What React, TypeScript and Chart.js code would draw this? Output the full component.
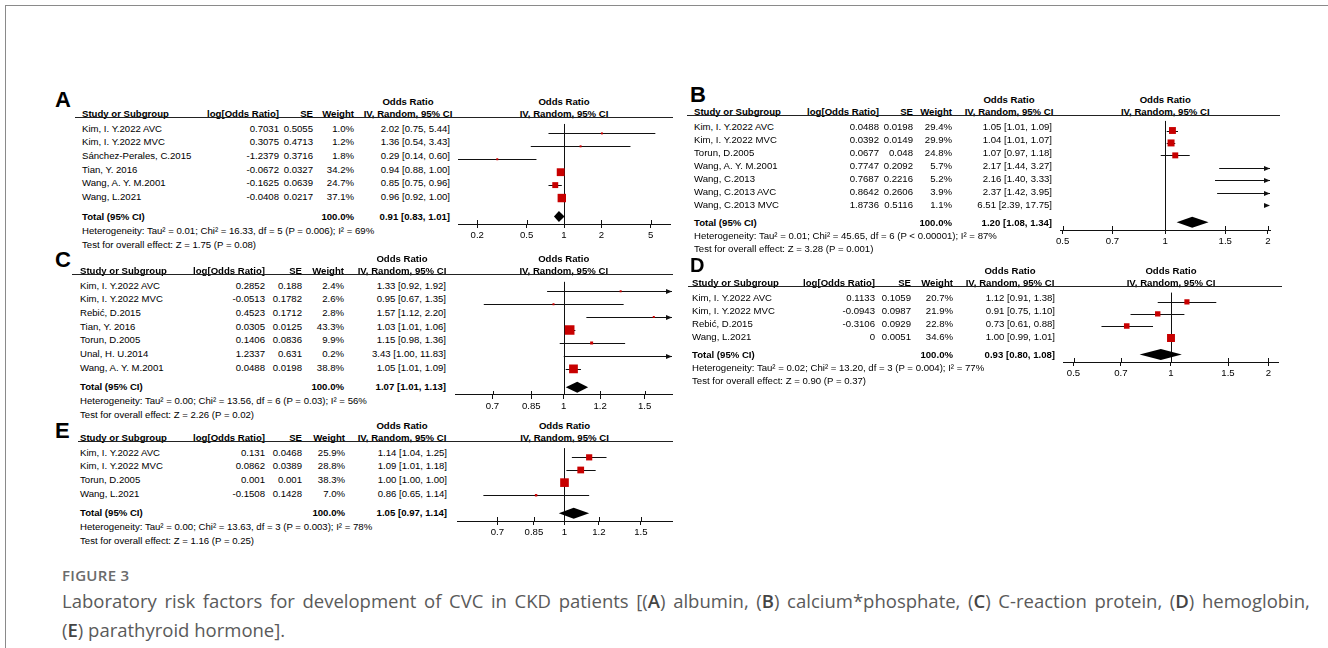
import React, { useEffect, useRef } from "react";
import { Chart, registerables } from "chart.js";

Chart.register(...registerables);

const FONT = '"Liberation Sans", Arial, Helvetica, sans-serif';
const FS = 9.6;
const AXIS_H = 22;
const PADX = 24;

// ---------- Panel A: albumin ----------
const aStudies = ["Kim, I. Y.2022 AVC", "Kim, I. Y.2022 MVC", "Sánchez-Perales, C.2015", "Tian, Y. 2016", "Wang, A. Y. M.2001", "Wang, L.2021"];
const aLogOR = [0.7031, 0.3075, -1.2379, -0.0672, -0.1625, -0.0408];
const aSE = [0.5055, 0.4713, 0.3716, 0.0327, 0.0639, 0.0217];
const aWeight = [1.0, 1.2, 1.8, 34.2, 24.7, 37.1];
const aOR = [2.02, 1.36, 0.29, 0.94, 0.85, 0.96];
const aLower = [0.75, 0.54, 0.14, 0.88, 0.75, 0.92];
const aUpper = [5.44, 3.43, 0.6, 1.0, 0.96, 1.0];
const aTotal = [0.91, 0.83, 1.01];
const aHet = "Heterogeneity: Tau² = 0.01; Chi² = 16.33, df = 5 (P = 0.006); I² = 69%";
const aTest = "Test for overall effect: Z = 1.75 (P = 0.08)";
const aTicks = [0.2, 0.5, 1, 2, 5];
const aRange = [0.14, 7.14];

// ---------- Panel B: calcium*phosphate ----------
const bStudies = ["Kim, I. Y.2022 AVC", "Kim, I. Y.2022 MVC", "Torun, D.2005", "Wang, A. Y. M.2001", "Wang, C.2013", "Wang, C.2013 AVC", "Wang, C.2013 MVC"];
const bLogOR = [0.0488, 0.0392, 0.0677, 0.7747, 0.7687, 0.8642, 1.8736];
const bSE = [0.0198, 0.0149, 0.048, 0.2092, 0.2216, 0.2606, 0.5116];
const bWeight = [29.4, 29.9, 24.8, 5.7, 5.2, 3.9, 1.1];
const bOR = [1.05, 1.04, 1.07, 2.17, 2.16, 2.37, 6.51];
const bLower = [1.01, 1.01, 0.97, 1.44, 1.4, 1.42, 2.39];
const bUpper = [1.09, 1.07, 1.18, 3.27, 3.33, 3.95, 17.75];
const bTotal = [1.2, 1.08, 1.34];
const bHet = "Heterogeneity: Tau² = 0.01; Chi² = 45.65, df = 6 (P < 0.00001); I² = 87%";
const bTest = "Test for overall effect: Z = 3.28 (P = 0.001)";
const bTicks = [0.5, 0.7, 1, 1.5, 2];
const bRange = [0.491, 2.03];

// ---------- Panel C: C-reaction protein ----------
const cStudies = ["Kim, I. Y.2022 AVC", "Kim, I. Y.2022 MVC", "Rebić, D.2015", "Tian, Y. 2016", "Torun, D.2005", "Unal, H. U.2014", "Wang, A. Y. M.2001"];
const cLogOR = [0.2852, -0.0513, 0.4523, 0.0305, 0.1406, 1.2337, 0.0488];
const cSE = [0.188, 0.1782, 0.1712, 0.0125, 0.0836, 0.631, 0.0198];
const cWeight = [2.4, 2.6, 2.8, 43.3, 9.9, 0.2, 38.8];
const cOR = [1.33, 0.95, 1.57, 1.03, 1.15, 3.43, 1.05];
const cLower = [0.92, 0.67, 1.12, 1.01, 0.98, 1.0, 1.01];
const cUpper = [1.92, 1.35, 2.2, 1.06, 1.36, 11.83, 1.09];
const cTotal = [1.07, 1.01, 1.13];
const cHet = "Heterogeneity: Tau² = 0.00; Chi² = 13.56, df = 6 (P = 0.03); I² = 56%";
const cTest = "Test for overall effect: Z = 2.26 (P = 0.02)";
const cTicks = [0.7, 0.85, 1, 1.2, 1.5];
const cRange = [0.58, 1.72];

// ---------- Panel D: hemoglobin ----------
const dStudies = ["Kim, I. Y.2022 AVC", "Kim, I. Y.2022 MVC", "Rebić, D.2015", "Wang, L.2021"];
const dLogOR = [0.1133, -0.0943, -0.3106, 0];
const dSE = [0.1059, 0.0987, 0.0929, 0.0051];
const dWeight = [20.7, 21.9, 22.8, 34.6];
const dOR = [1.12, 0.91, 0.73, 1.0];
const dLower = [0.91, 0.75, 0.61, 0.99];
const dUpper = [1.38, 1.1, 0.88, 1.01];
const dTotal = [0.93, 0.8, 1.08];
const dHet = "Heterogeneity: Tau² = 0.02; Chi² = 13.20, df = 3 (P = 0.004); I² = 77%";
const dTest = "Test for overall effect: Z = 0.90 (P = 0.37)";
const dTicks = [0.5, 0.7, 1, 1.5, 2];
const dRange = [0.464, 2.14];

// ---------- Panel E: parathyroid hormone ----------
const eStudies = ["Kim, I. Y.2022 AVC", "Kim, I. Y.2022 MVC", "Torun, D.2005", "Wang, L.2021"];
const eLogOR = [0.131, 0.0862, 0.001, -0.1508];
const eSE = [0.0468, 0.0389, 0.001, 0.1428];
const eWeight = [25.9, 28.8, 38.3, 7.0];
const eOR = [1.14, 1.09, 1.0, 0.86];
const eLower = [1.04, 1.01, 1.0, 0.65];
const eUpper = [1.25, 1.18, 1.0, 1.14];
const eTotal = [1.05, 0.97, 1.14];
const eHet = "Heterogeneity: Tau² = 0.00; Chi² = 13.63, df = 3 (P = 0.003); I² = 78%";
const eTest = "Test for overall effect: Z = 1.16 (P = 0.25)";
const eTicks = [0.7, 0.85, 1, 1.2, 1.5];
const eRange = [0.565, 1.77];

const captionTitle = "FIGURE 3";
const captionLine1 = "Laboratory risk factors for development of CVC in CKD patients [(A) albumin, (B) calcium*phosphate, (C) C-reaction protein, (D) hemoglobin,";
const captionLine2 = "(E) parathyroid hormone].";

const AXIS_OFF = 8;

type Layout = {
  labelX: number; labelDy: number; labelSize: number; Hc: number; rh: number; totalGap: number; noteGap: number;
  lineX0: number; lineX1: number; nameX: number; logR: number; seR: number; wR: number; ciR: number; ciHeadC: number;
  plotL: number; plotR: number;
};

type Spec = {
  label: string; studies: string[]; logOR: number[]; se: number[]; weight: number[];
  or: number[]; lower: number[]; upper: number[]; total: number[]; het: string; test: string;
  ticks: number[]; range: number[]; lay: Layout;
};

const panels: Spec[] = [
  {
    label: "A", studies: aStudies, logOR: aLogOR, se: aSE, weight: aWeight, or: aOR, lower: aLower, upper: aUpper,
    total: aTotal, het: aHet, test: aTest, ticks: aTicks, range: aRange,
    lay: { labelX: 55, labelDy: -5, labelSize: 22, Hc: 113, rh: 13.7, totalGap: 19.5, noteGap: 14, lineX0: 75, lineX1: 673, nameX: 82, logR: 279, seR: 313, wR: 354, ciR: 450, ciHeadC: 408, plotL: 458, plotR: 670 },
  },
  {
    label: "B", studies: bStudies, logOR: bLogOR, se: bSE, weight: bWeight, or: bOR, lower: bLower, upper: bUpper,
    total: bTotal, het: bHet, test: bTest, ticks: bTicks, range: bRange,
    lay: { labelX: 690, labelDy: -8, labelSize: 22, Hc: 111, rh: 13.0, totalGap: 18, noteGap: 13.3, lineX0: 687, lineX1: 1280, nameX: 694, logR: 879, seR: 913, wR: 952, ciR: 1052, ciHeadC: 1009, plotL: 1060, plotR: 1270 },
  },
  {
    label: "C", studies: cStudies, logOR: cLogOR, se: cSE, weight: cWeight, or: cOR, lower: cLower, upper: cUpper,
    total: cTotal, het: cHet, test: cTest, ticks: cTicks, range: cRange,
    lay: { labelX: 55, labelDy: -2, labelSize: 22, Hc: 270, rh: 13.7, totalGap: 19.5, noteGap: 14, lineX0: 72, lineX1: 673, nameX: 80, logR: 265, seR: 302, wR: 344, ciR: 446, ciHeadC: 402, plotL: 455, plotR: 672 },
  },
  {
    label: "D", studies: dStudies, logOR: dLogOR, se: dSE, weight: dWeight, or: dOR, lower: dLower, upper: dUpper,
    total: dTotal, het: dHet, test: dTest, ticks: dTicks, range: dRange,
    lay: { labelX: 690, labelDy: -9.7, labelSize: 20, Hc: 282, rh: 13.0, totalGap: 18, noteGap: 13.3, lineX0: 688, lineX1: 1282, nameX: 692, logR: 875, seR: 911, wR: 953, ciR: 1055, ciHeadC: 1010, plotL: 1063, plotR: 1278 },
  },
  {
    label: "E", studies: eStudies, logOR: eLogOR, se: eSE, weight: eWeight, or: eOR, lower: eLower, upper: eUpper,
    total: eTotal, het: eHet, test: eTest, ticks: eTicks, range: eRange,
    lay: { labelX: 55, labelDy: 2, labelSize: 22, Hc: 437, rh: 13.7, totalGap: 19.5, noteGap: 14, lineX0: 78, lineX1: 673, nameX: 80, logR: 265, seR: 302, wR: 345, ciR: 447, ciHeadC: 402, plotL: 457, plotR: 672 },
  },
];

function squareSide(w: number) {
  return Math.max(2, 0.2 * w + 1);
}

function fmtCI(v: number[]) {
  return `${v[0].toFixed(2)} [${v[1].toFixed(2)}, ${v[2].toFixed(2)}]`;
}

function Txt(props: { x: number; y: number; align?: string; bold?: boolean; children: any }) {
  const { x, y, align = "left", bold = false, children } = props;
  const h = 11;
  const W = 600;
  const style: any = {
    position: "absolute",
    top: y - h / 2,
    height: h,
    lineHeight: h + "px",
    fontFamily: FONT,
    fontSize: FS,
    fontWeight: bold ? 700 : 400,
    whiteSpace: "nowrap",
    color: "#000",
  };
  if (align === "left") style.left = x;
  else if (align === "right") {
    style.left = x - W;
    style.width = W;
    style.textAlign = "right";
  } else {
    style.left = x - W / 2;
    style.width = W;
    style.textAlign = "center";
  }
  return <div style={style}>{children}</div>;
}

function Panel({ p }: { p: Spec }) {
  const ref = useRef<HTMLCanvasElement | null>(null);
  const L = p.lay;
  const n = p.studies.length;
  const H = L.Hc + 5; // header rule
  const row0 = L.Hc + 15;
  const rowY = (i: number) => row0 + i * L.rh;
  const totalIdx = n - 1 + L.totalGap / L.rh;
  const totalY = rowY(totalIdx);
  const hetY = totalY + L.noteGap;
  const testY = hetY + L.noteGap;
  const axisY = Math.round(totalY + AXIS_OFF);
  const chartH = axisY - H;
  const canvasW = L.plotR - L.plotL + 2 * PADX;
  const canvasH = chartH + AXIS_H;
  const lmin = Math.log10(p.range[0]);
  const lmax = Math.log10(p.range[1]);
  const oneX = L.plotL + ((0 - lmin) / (lmax - lmin)) * (L.plotR - L.plotL);

  useEffect(() => {
    const canvas = ref.current;
    if (!canvas) return;
    const [xMin, xMax] = p.range;
    const yMin = -(row0 - H) / L.rh;
    const yMax = (axisY - row0) / L.rh;
    const pts = p.or
      .map((v, i) => ({ x: v, y: i, r: squareSide(p.weight[i]) / Math.SQRT2 }))
      .filter((pt) => pt.x >= xMin && pt.x <= xMax);

    const arrow = (ctx: CanvasRenderingContext2D, x: number, y: number, dir: number) => {
      ctx.beginPath();
      ctx.moveTo(x, y);
      ctx.lineTo(x - dir * 6, y - 2.6);
      ctx.lineTo(x - dir * 6, y + 2.6);
      ctx.closePath();
      ctx.fill();
    };

    const forest = {
      id: "forest" + p.label,
      beforeDatasetsDraw(chart: any) {
        const { ctx, chartArea: ca } = chart;
        const xs = chart.scales.x;
        const ys = chart.scales.y;
        const px = (v: number) => xs.getPixelForValue(v);
        ctx.save();
        ctx.strokeStyle = "#111";
        ctx.fillStyle = "#111";
        ctx.lineWidth = 1;
        const c1 = Math.round(px(1)) + 0.5;
        ctx.beginPath();
        ctx.moveTo(c1, ca.top);
        ctx.lineTo(c1, ca.bottom);
        ctx.stroke();
        p.ticks.forEach((t) => {
          const tx = Math.round(px(t)) + 0.5;
          ctx.beginPath();
          ctx.moveTo(tx, ca.bottom - 4);
          ctx.lineTo(tx, ca.bottom);
          ctx.stroke();
        });
        const xLeft = px(xMin);
        const xRight = px(xMax);
        p.lower.forEach((lo, i) => {
          const hi = p.upper[i];
          const yy = Math.round(ys.getPixelForValue(i)) + 0.5;
          if (lo > xMax) {
            arrow(ctx, xRight, yy, 1);
            return;
          }
          if (hi < xMin) {
            arrow(ctx, xLeft, yy, -1);
            return;
          }
          const a = lo < xMin ? xLeft : px(lo);
          const b = hi > xMax ? xRight : px(hi);
          ctx.beginPath();
          ctx.moveTo(a, yy);
          ctx.lineTo(b, yy);
          ctx.stroke();
          if (lo < xMin) arrow(ctx, xLeft, yy, -1);
          if (hi > xMax) arrow(ctx, xRight, yy, 1);
        });
        ctx.restore();
      },
      afterDatasetsDraw(chart: any) {
        const { ctx } = chart;
        const xs = chart.scales.x;
        const ys = chart.scales.y;
        const yT = ys.getPixelForValue(totalIdx);
        const xl = xs.getPixelForValue(p.total[1]);
        const xr = xs.getPixelForValue(p.total[2]);
        const xc = xs.getPixelForValue(p.total[0]);
        ctx.save();
        ctx.fillStyle = "#000";
        ctx.beginPath();
        ctx.moveTo(xl, yT);
        ctx.lineTo(xc, yT - 5.5);
        ctx.lineTo(xr, yT);
        ctx.lineTo(xc, yT + 5.5);
        ctx.closePath();
        ctx.fill();
        ctx.restore();
      },
    };

    const chart = new Chart(canvas, {
      type: "scatter",
      data: {
        datasets: [
          {
            data: pts as any,
            pointStyle: "rect",
            pointRadius: (ctx: any) => (ctx.raw ? ctx.raw.r : 2),
            pointHoverRadius: (ctx: any) => (ctx.raw ? ctx.raw.r : 2),
            backgroundColor: "#c80000",
            borderWidth: 0,
          } as any,
        ],
      },
      options: {
        responsive: false,
        animation: false,
        events: [],
        layout: { padding: { left: PADX, right: PADX, top: 0, bottom: 0 } },
        plugins: { legend: { display: false }, tooltip: { enabled: false }, title: { display: false } },
        scales: {
          x: {
            type: "logarithmic",
            min: xMin,
            max: xMax,
            position: "bottom",
            afterBuildTicks: (s: any) => {
              s.ticks = p.ticks.map((v) => ({ value: v }));
            },
            afterFit: (s: any) => {
              s.height = AXIS_H;
            },
            ticks: {
              autoSkip: false,
              maxRotation: 0,
              minRotation: 0,
              color: "#000",
              font: { family: FONT, size: FS },
              padding: 2,
              callback: (v: any) => String(v),
            },
            grid: { display: true, drawOnChartArea: false, drawTicks: true, tickLength: 4, color: "#111", lineWidth: 1 },
            border: { display: true, color: "#111", width: 1 },
          },
          y: { type: "linear", reverse: true, min: yMin, max: yMax, display: false },
        },
      } as any,
      plugins: [forest as any],
    });
    return () => chart.destroy();
  }, []);

  const headY = L.Hc;
  const labelBase = L.Hc + L.labelDy;
  const ls = L.labelSize;
  return (
    <>
      <div
        style={{
          position: "absolute",
          left: L.labelX,
          top: labelBase - 8 - 0.3465 * ls,
          height: 16,
          fontFamily: FONT,
          fontWeight: 700,
          fontSize: ls,
          lineHeight: "16px",
          color: "#000",
        }}
      >
        {p.label}
      </div>
      <Txt x={L.ciHeadC} y={headY - 12} align="center" bold>Odds Ratio</Txt>
      <Txt x={oneX} y={headY - 12} align="center" bold>Odds Ratio</Txt>
      <Txt x={L.nameX} y={headY} bold>Study or Subgroup</Txt>
      <Txt x={L.logR} y={headY} align="right" bold>log[Odds Ratio]</Txt>
      <Txt x={L.seR} y={headY} align="right" bold>SE</Txt>
      <Txt x={L.wR} y={headY} align="right" bold>Weight</Txt>
      <Txt x={L.ciHeadC} y={headY} align="center" bold>IV, Random, 95% CI</Txt>
      <Txt x={oneX} y={headY} align="center" bold>IV, Random, 95% CI</Txt>
      <div style={{ position: "absolute", left: L.lineX0, top: H - 1, width: L.lineX1 - L.lineX0, height: 1, background: "#222" }} />
      {p.studies.map((s, i) => (
        <React.Fragment key={s + i}>
          <Txt x={L.nameX} y={rowY(i)}>{s}</Txt>
          <Txt x={L.logR} y={rowY(i)} align="right">{String(p.logOR[i])}</Txt>
          <Txt x={L.seR} y={rowY(i)} align="right">{String(p.se[i])}</Txt>
          <Txt x={L.wR} y={rowY(i)} align="right">{p.weight[i].toFixed(1) + "%"}</Txt>
          <Txt x={L.ciR} y={rowY(i)} align="right">{fmtCI([p.or[i], p.lower[i], p.upper[i]])}</Txt>
        </React.Fragment>
      ))}
      <Txt x={L.nameX} y={totalY} bold>Total (95% CI)</Txt>
      <Txt x={L.wR} y={totalY} align="right" bold>100.0%</Txt>
      <Txt x={L.ciR} y={totalY} align="right" bold>{fmtCI(p.total)}</Txt>
      <Txt x={L.nameX} y={hetY}>{p.het}</Txt>
      <Txt x={L.nameX} y={testY}>{p.test}</Txt>
      <canvas
        ref={ref}
        width={canvasW}
        height={canvasH}
        style={{ position: "absolute", left: L.plotL - PADX, top: H, width: canvasW, height: canvasH }}
      />
    </>
  );
}

function CaptionWord({ w }: { w: string }) {
  const parts = w.split(/(\([A-E]\))/);
  return (
    <span>
      {parts.map((pt, i) =>
        /^\([A-E]\)$/.test(pt) ? (
          <span key={i}>
            (<span style={{ fontWeight: 600, color: "#444" }}>{pt[1]}</span>)
          </span>
        ) : (
          <span key={i}>{pt}</span>
        )
      )}
    </span>
  );
}

export default function App() {
  const capFont = '"Open Sans", "Noto Sans", sans-serif';
  const words1 = captionLine1.split(" ");
  const words2 = captionLine2.split(" ");
  return (
    <div style={{ position: "absolute", left: 0, top: 0, width: 1328, height: 648, background: "#fff", overflow: "hidden" }}>
      <div
        style={{
          position: "absolute",
          left: 5,
          top: 5,
          width: 1330,
          height: 650,
          borderTop: "1px solid #8a8a8a",
          borderLeft: "1px solid #8a8a8a",
        }}
      />
      {panels.map((p) => (
        <Panel key={p.label} p={p} />
      ))}
      <div
        style={{
          position: "absolute",
          left: 62,
          top: 565,
          fontFamily: capFont,
          fontSize: 15,
          fontWeight: 600,
          color: "#6b6b6b",
          lineHeight: "20px",
          letterSpacing: 0.3,
          whiteSpace: "nowrap",
        }}
      >
        {captionTitle}
      </div>
      <div
        style={{
          position: "absolute",
          left: 62,
          top: 588,
          width: 1248,
          display: "flex",
          justifyContent: "space-between",
          fontFamily: capFont,
          fontSize: 18.5,
          color: "#5a5a5a",
          lineHeight: "26px",
          whiteSpace: "nowrap",
        }}
      >
        {words1.map((w, i) => (
          <CaptionWord key={i} w={w} />
        ))}
      </div>
      <div
        style={{
          position: "absolute",
          left: 62,
          top: 617,
          fontFamily: capFont,
          fontSize: 18.5,
          color: "#5a5a5a",
          lineHeight: "26px",
          whiteSpace: "nowrap",
        }}
      >
        {words2.map((w, i) => (
          <React.Fragment key={i}>
            <CaptionWord w={w} />
            {i < words2.length - 1 ? " " : ""}
          </React.Fragment>
        ))}
      </div>
    </div>
  );
}
